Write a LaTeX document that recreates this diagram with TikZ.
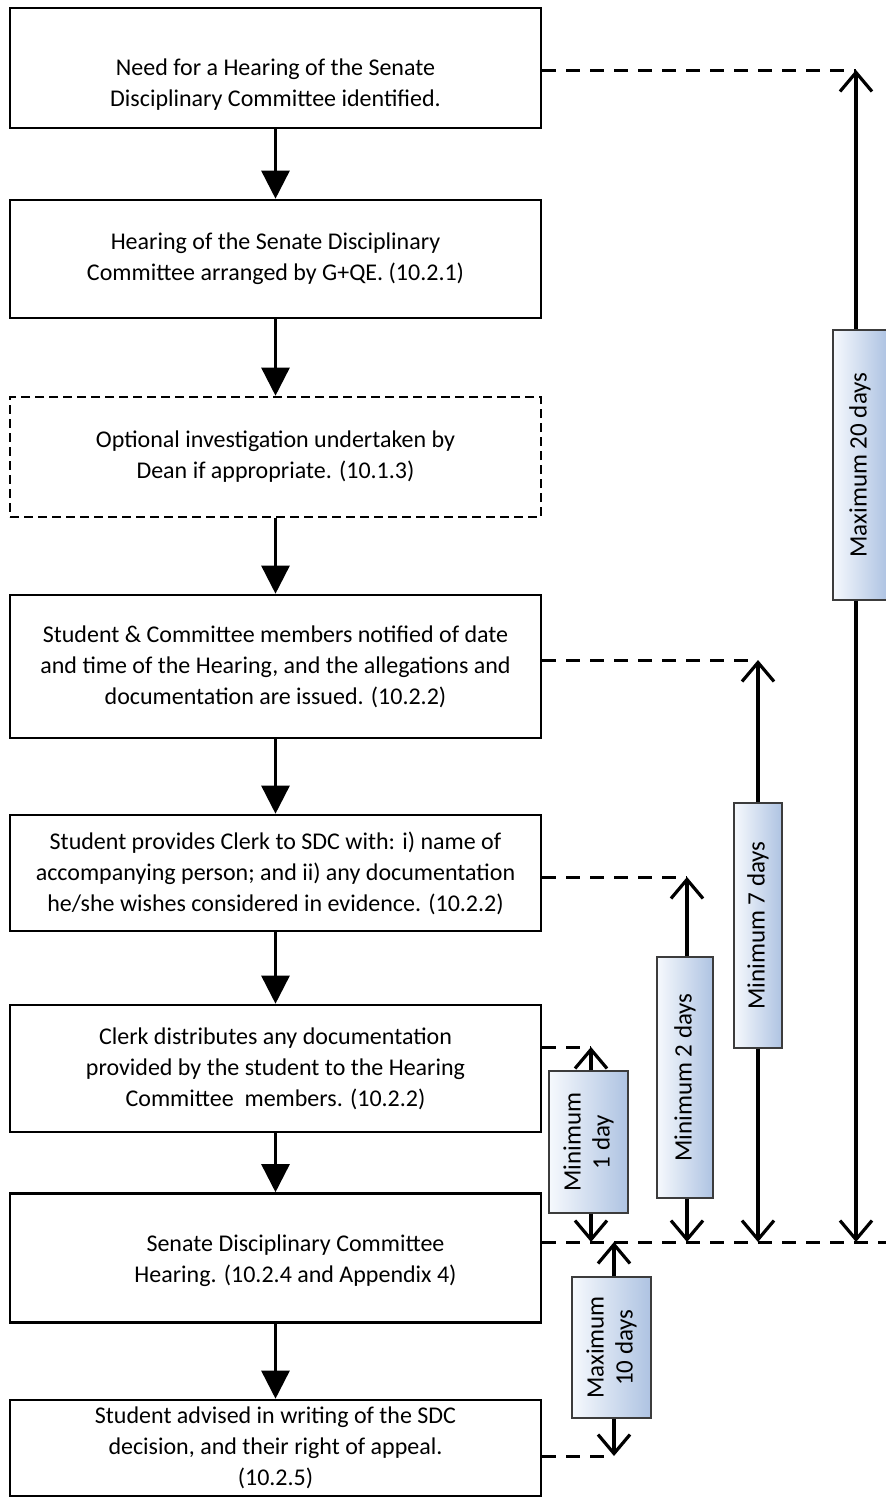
\documentclass[tikz,border=0pt]{standalone}
\usepackage{fontspec}
\setmainfont{Carlito}
\usetikzlibrary{arrows.meta}

\definecolor{dayleft}{RGB}{246,249,253}
\definecolor{dayright}{RGB}{174,195,226}
\definecolor{dayline}{RGB}{60,60,60}

\tikzset{
  stepfont/.style={font=\fontsize{24}{31}\selectfont},
  stepbox/.style={draw, line width=2.6pt, minimum width=531pt, inner sep=0pt,
    align=center, stepfont},
  optbox/.style={stepbox, dash pattern=on 9pt off 5pt},
  flow/.style={line width=2.6pt, -{Triangle[width=28pt,length=28pt]}},
  gapline/.style={line width=3pt, dash pattern=on 14pt off 10pt},
  span/.style={line width=3.2pt, -{Straight Barb[length=19pt,width=32pt]}},
  daybox/.style={draw=dayline, line width=1.2pt, rotate=90, inner sep=0pt,
    left color=dayleft, right color=dayright, align=center,
    font=\fontsize{25}{29}\selectfont}
}

\begin{document}
\begin{tikzpicture}[x=1pt, y=-1pt]
        \useasboundingbox (0,0) rectangle (886,1502);

        % Ablauf
        \node[stepbox, minimum height=120pt,
              label={[stepfont, align=center, yshift=-17pt]center:{Need for a Hearing of the Senate\\Disciplinary Committee identified.}}]
              (need) at (275.5, 68) {};
        \node[stepbox, minimum height=118pt] (arranged) at (275.5, 259) {Hearing of the Senate Disciplinary\\Committee arranged by G+QE. (10.2.1)};
        \node[optbox, minimum height=120pt] (optional) at (275.5, 457) {Optional investigation undertaken by\\Dean if appropriate. (10.1.3)};
        \node[stepbox, minimum height=143pt] (notified) at (275.5, 666.5) {Student \& Committee members notified of date\\and time of the Hearing, and the allegations and\\documentation are issued. (10.2.2)};
        \node[stepbox, minimum height=116pt] (provides) at (275.5, 873) {Student provides Clerk to SDC with: i) name of\\accompanying person; and ii) any documentation\\he/she wishes considered in evidence. (10.2.2)};
        \node[stepbox, minimum height=127pt] (distributes) at (275.5, 1068.5) {Clerk distributes any documentation\\provided by the student to the Hearing\\Committee\ \ members. (10.2.2)};
        \node[stepbox, minimum height=129pt,
              label={[stepfont, align=center, xshift=20pt, yshift=-3pt]center:{Senate Disciplinary Committee\\Hearing. (10.2.4 and Appendix 4)}}]
              (hearing) at (275.5, 1258) {};
        \node[stepbox, minimum height=96pt] (advised) at (275.5, 1448) {Student advised in writing of the SDC\\decision, and their right of appeal.\\(10.2.5)};

        % Pfeile
        \draw[flow] (need) -- (arranged);
        \draw[flow] (arranged) -- (optional);
        \draw[flow] (optional) -- (notified);
        \draw[flow] (notified) -- (provides);
        \draw[flow] (provides) -- (distributes);
        \draw[flow] (distributes) -- (hearing);
        \draw[flow] (hearing) -- (advised);

        % Fristen
        \coordinate (top20) at (856, 70);
        \coordinate (top7) at (758, 660);
        \coordinate (top2) at (687, 877);
        \coordinate (top1) at (591, 1047);
        \coordinate (hear) at (886, 1242);
        \coordinate (top10) at (614, 1242);
        \coordinate (bot10) at (614, 1456);

        \draw[gapline] (need.east |- top20) -- (top20);
        \draw[gapline] (notified.east |- top7) -- (top7);
        \draw[gapline] (provides.east |- top2) -- (top2);
        \draw[gapline] (distributes.east |- top1) -- (top1);
        \draw[gapline] (hearing.east |- hear) -- (hear);
        \draw[gapline] (advised.east |- bot10) -- (bot10);

        \node[daybox, minimum width=270pt, minimum height=54pt] (max20) at (860, 465) {Maximum 20 days};
        \node[daybox, minimum width=245pt, minimum height=48pt] (min7) at (758, 925.5) {Minimum 7 days};
        \node[daybox, minimum width=241pt, minimum height=56pt] (min2) at (685, 1077.5) {Minimum 2 days};
        \node[daybox, minimum width=142pt, minimum height=79pt] (min1) at (588.5, 1142) {Minimum\\1 day};
        \node[daybox, minimum width=141pt, minimum height=79pt] (max10) at (611.5, 1347.5) {Maximum\\10 days};

        \draw[span] (top20 |- max20.east) -- (top20);
        \draw[span] (top20 |- max20.west) -- (top20 |- hear);
        \draw[span] (top7 |- min7.east) -- (top7);
        \draw[span] (top7 |- min7.west) -- (top7 |- hear);
        \draw[span] (top2 |- min2.east) -- (top2);
        \draw[span] (top2 |- min2.west) -- (top2 |- hear);
        \draw[span] (top1 |- min1.east) -- (top1);
        \draw[span] (top1 |- min1.west) -- (top1 |- hear);
        \draw[span] (top10 |- max10.east) -- (top10);
        \draw[span] (top10 |- max10.west) -- (bot10);

    \end{tikzpicture}
\end{document}
